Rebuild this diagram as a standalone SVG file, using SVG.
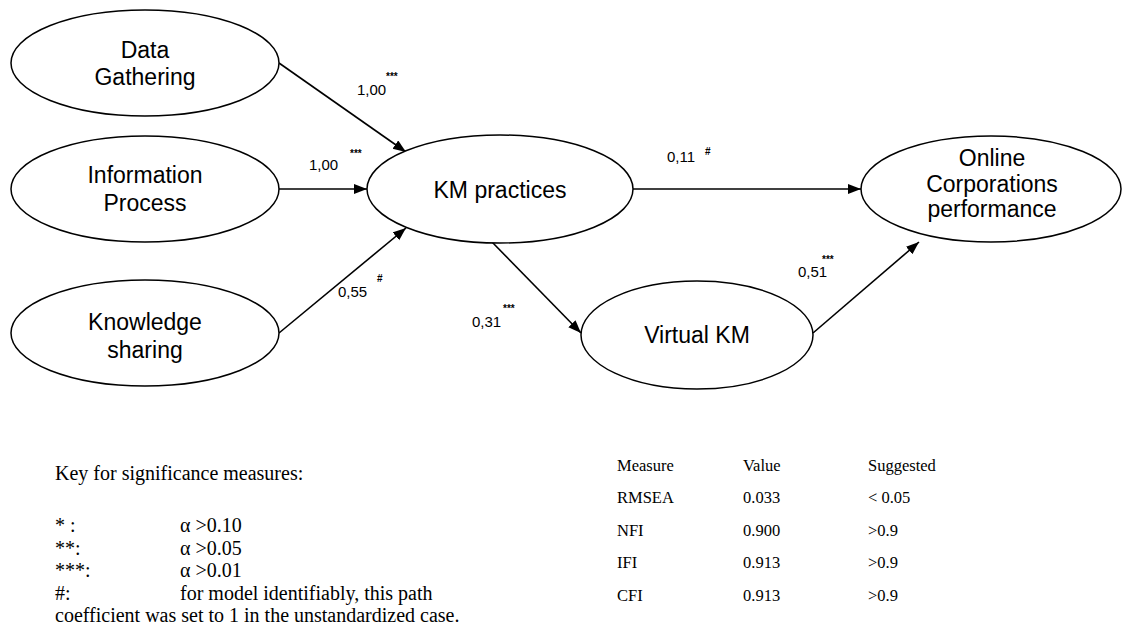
<svg xmlns="http://www.w3.org/2000/svg" width="1123" height="634" viewBox="0 0 1123 634">
<style>
.node ellipse{fill:#fff;stroke:#000;stroke-width:1.5}
.nl{font-family:"Liberation Sans",Arial,sans-serif;font-size:23px;text-anchor:middle;fill:#000}
.el{font-family:"Liberation Sans",Arial,sans-serif;font-size:15px;fill:#000}
.sup{font-family:"Liberation Sans",Arial,sans-serif;font-size:10px;font-weight:bold;fill:#000}
.edge{stroke:#000;stroke-width:1.6;fill:none;marker-end:url(#ah)}
.key{font-family:"Liberation Serif","Times New Roman",serif;font-size:20px;fill:#000}
.tb{font-family:"Liberation Serif","Times New Roman",serif;font-size:16.5px;fill:#000}
</style>
<defs>
<marker id="ah" markerUnits="userSpaceOnUse" markerWidth="14" markerHeight="12" refX="13" refY="5" orient="auto">
<path d="M0,0 L13,5 L0,10 z" fill="#000"/>
</marker>
</defs>
<rect width="1123" height="634" fill="#fff"/>
<g id="connectors">
<line class="edge" x1="279" y1="63" x2="406" y2="152"/>
<line class="edge" x1="279" y1="189" x2="367" y2="189"/>
<line class="edge" x1="279" y1="333" x2="406" y2="228"/>
<line class="edge" x1="633" y1="189" x2="861" y2="189"/>
<line class="edge" x1="492" y1="242" x2="581" y2="333"/>
<line class="edge" x1="813" y1="333" x2="919" y2="242"/>
<text class="el" x="357" y="95">1,00</text><text class="sup" x="386" y="80">***</text>
<text class="el" x="309" y="170">1,00</text><text class="sup" x="350" y="157">***</text>
<text class="el" x="338" y="297">0,55</text><text class="sup" x="377" y="282">#</text>
<text class="el" x="667" y="162">0,11</text><text class="sup" x="705" y="155">#</text>
<text class="el" x="472" y="327">0,31</text><text class="sup" x="503" y="312">***</text>
<text class="el" x="798" y="277">0,51</text><text class="sup" x="822" y="263">***</text>
</g>
<g id="data-gathering" class="node">
<ellipse cx="145" cy="63" rx="134" ry="53"/>
<text class="nl" x="145" y="58">Data</text>
<text class="nl" x="145" y="85">Gathering</text>
</g>
<g id="information-process" class="node">
<ellipse cx="145" cy="189" rx="134" ry="53"/>
<text class="nl" x="145" y="183">Information</text>
<text class="nl" x="145" y="211">Process</text>
</g>
<g id="knowledge-sharing" class="node">
<ellipse cx="145" cy="333" rx="134" ry="53"/>
<text class="nl" x="145" y="330">Knowledge</text>
<text class="nl" x="145" y="358">sharing</text>
</g>
<g id="km-practices" class="node">
<ellipse cx="500" cy="189" rx="133" ry="54"/>
<text class="nl" x="500" y="198">KM practices</text>
</g>
<g id="online-performance" class="node">
<ellipse cx="991" cy="189" rx="130" ry="53"/>
<text class="nl" x="992" y="166">Online</text>
<text class="nl" x="992" y="192">Corporations</text>
<text class="nl" x="992" y="217">performance</text>
</g>
<g id="virtual-km" class="node">
<ellipse cx="697" cy="335" rx="116" ry="54"/>
<text class="nl" x="697" y="343">Virtual KM</text>
</g>
<g id="key">
<text class="key" x="55" y="480">Key for significance measures:</text>
<text class="key" x="55" y="532">* :</text><text class="key" x="180" y="532">α &gt;0.10</text>
<text class="key" x="55" y="555">**:</text><text class="key" x="180" y="555">α &gt;0.05</text>
<text class="key" x="55" y="577">***:</text><text class="key" x="180" y="577">α &gt;0.01</text>
<text class="key" x="55" y="600">#:</text><text class="key" x="180" y="600">for model identifiably, this path</text>
<text class="key" x="55" y="622">coefficient was set to 1 in the unstandardized case.</text>
</g>
<g id="fit-table">
<text class="tb" x="617" y="471">Measure</text><text class="tb" x="743" y="471">Value</text><text class="tb" x="868" y="471">Suggested</text>
<text class="tb" x="617" y="503">RMSEA</text><text class="tb" x="743" y="503">0.033</text><text class="tb" x="868" y="503">&lt; 0.05</text>
<text class="tb" x="617" y="536">NFI</text><text class="tb" x="743" y="536">0.900</text><text class="tb" x="868" y="536">&gt;0.9</text>
<text class="tb" x="617" y="568">IFI</text><text class="tb" x="743" y="568">0.913</text><text class="tb" x="868" y="568">&gt;0.9</text>
<text class="tb" x="617" y="601">CFI</text><text class="tb" x="743" y="601">0.913</text><text class="tb" x="868" y="601">&gt;0.9</text>
</g>
</svg>
